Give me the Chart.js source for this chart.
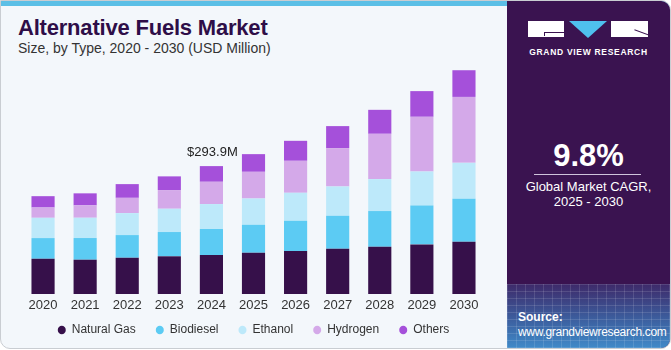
<!DOCTYPE html>
<html>
<head>
<meta charset="utf-8">
<script src="https://cdn.jsdelivr.net/npm/chart.js@4/dist/chart.umd.min.js"></script>
<style>
	html,body{margin:0;padding:0;background:#fff;}
	#card{position:absolute;left:0;top:0;width:669px;height:347px;background:#f3f7fb;border:1px solid #c9cdd2;border-radius:0 10px 10px 10px;overflow:hidden;font-family:"Liberation Sans",Arial,sans-serif;}
	#stripe{position:absolute;left:0;top:0;width:100%;height:5px;background:#5bbfe6;}
	#title{position:absolute;left:17px;top:14px;font-size:22px;font-weight:bold;color:#2e0e48;letter-spacing:-0.2px;}
	#sub{position:absolute;left:17px;top:39px;font-size:14px;color:#333;}
	#chartBox{position:absolute;left:0;top:58px;width:505px;height:289px;}
	#panel{position:absolute;left:506px;top:0;width:163px;height:347px;background:#3a1350;}
	#grid{position:absolute;left:0;bottom:0;width:100%;height:64px;
		background:
			repeating-linear-gradient(90deg,rgba(255,255,255,0.12) 0 1px,transparent 1px 9px),
			repeating-linear-gradient(0deg,rgba(255,255,255,0.12) 0 1px,transparent 1px 7px),
			linear-gradient(180deg,#3e2a6a 0%,#3c5a9a 50%,#3f8ac8 100%);}
	#src1{position:absolute;left:11px;top:26px;font-size:12px;font-weight:bold;color:#fff;}
	#src2{position:absolute;left:11px;top:41px;font-size:12px;color:#fff;letter-spacing:-0.3px;}
	#cagr{position:absolute;left:0;width:100%;top:137px;text-align:center;font-size:31px;font-weight:bold;color:#fff;}
	#rule{position:absolute;left:27px;width:107px;top:173px;height:1px;background:#cfc3dc;}
	#cagrTxt{position:absolute;left:0;width:100%;top:178px;text-align:center;font-size:13px;color:#fff;line-height:15px;}
	#logo{position:absolute;left:0;top:0;width:100%;height:60px;}
	#lg1{position:absolute;left:21px;top:20px;width:36px;height:16px;background:#fff;}
	#lg1 i{position:absolute;left:16px;top:11px;width:20px;height:1px;background:#3a1350;}
	#lg1 b{position:absolute;left:16px;top:11px;width:1px;height:4px;background:#3a1350;}
	#lg2{position:absolute;left:62px;top:20px;width:0;height:0;border-left:19px solid transparent;border-right:19px solid transparent;border-top:17px solid #4fc0ee;}
	#lg3{position:absolute;left:104px;top:20px;width:37px;height:16px;background:#fff;overflow:hidden;}
	#lg3 i{position:absolute;left:23px;top:11px;width:16px;height:1px;background:#3a1350;transform:rotate(20deg);}
	#lgT{position:absolute;left:0;width:100%;top:46px;text-align:center;font-size:8.5px;font-weight:bold;color:#fff;letter-spacing:0.7px;}
</style>
</head>
<body>
<div id="card">
	<div id="stripe"></div>
	<div id="title">Alternative Fuels Market</div>
	<div id="sub">Size, by Type, 2020 - 2030 (USD Million)</div>
	<div id="chartBox"><canvas id="fuelChart"></canvas></div>
	<div id="panel">
		<div id="logo">
			<div id="lg1"><i></i><b></b></div>
			<div id="lg2"></div>
			<div id="lg3"><i></i></div>
			<div id="lgT">GRAND VIEW RESEARCH</div>
		</div>
		<div id="cagr">9.8%</div>
		<div id="rule"></div>
		<div id="cagrTxt">Global Market CAGR,<br>2025 - 2030</div>
		<div id="grid">
			<div id="src1">Source:</div>
			<div id="src2">www.grandviewresearch.com</div>
		</div>
	</div>
</div>
<script>
// values (USD Million)
const years = ['2020','2021','2022','2023','2024','2025','2026','2027','2028','2029','2030'];
const naturalGas = [81.0, 78.8, 83.3, 86.6, 89.6, 94.8, 98.7, 104.0, 108.6, 114.0, 120.0];
const biodiesel  = [47.5, 49.8, 52.1, 55.8, 59.7, 64.3, 69.6, 75.8, 82.0, 89.5, 98.7];
const ethanol    = [46.6, 46.6, 50.5, 53.5, 57.4, 60.4, 64.3, 67.3, 73.5, 78.1, 82.7];
const hydrogen   = [23.7, 28.5, 35.1, 42.9, 51.2, 61.3, 73.5, 88.2, 104.0, 125.6, 151.5];
const others     = [26.0, 27.6, 31.5, 31.5, 36.0, 40.6, 45.9, 50.5, 55.1, 59.0, 61.3];
const seriesNames = ['Natural Gas','Biodiesel','Ethanol','Hydrogen','Others'];
const seriesColors = ['#36104a','#5ccbf3','#bde9fa','#d4a9e9','#a550da'];
const callout = {index: 4, text: '$293.9M'};

const seriesData = [naturalGas, biodiesel, ethanol, hydrogen, others];

// writes the callout value above one bar
const calloutPlugin = {
	id: 'callout',
	afterDatasetsDraw(chart){
		let meta = chart.getDatasetMeta(chart.data.datasets.length-1);
		let bar = meta.data[callout.index];
		let ctx = chart.ctx;
		ctx.save();
		ctx.font = '13px "Liberation Sans", Arial, sans-serif';
		ctx.fillStyle = '#222';
		ctx.textAlign = 'center';
		ctx.textBaseline = 'bottom';
		ctx.fillText(callout.text, bar.x + 1, bar.y - 7);
		ctx.restore();
	}
};

let ctx = document.getElementById('fuelChart').getContext('2d');
let chart = new Chart(ctx, {
	type: 'bar',
	data: {
		labels: years,
		datasets: seriesData.map(function(d, i){
			return {
				label: seriesNames[i],
				data: d,
				backgroundColor: seriesColors[i],
				borderWidth: 0,
				barPercentage: 0.55,
				categoryPercentage: 1.0
			};
		})
	},
	options: {
		responsive: true,
		maintainAspectRatio: false,
		animation: false,
		layout: {padding: {left: 21, right: 21, top: 0, bottom: 2}},
		plugins: {
			tooltip: {enabled: false},
			legend: {
				position: 'bottom',
				labels: {
					usePointStyle: true,
					pointStyle: 'circle',
					boxWidth: 8,
					boxHeight: 6,
					pointStyleWidth: 8,
					padding: 20,
					color: '#333',
					font: {family: '"Liberation Sans", Arial, sans-serif', size: 12}
				}
			}
		},
		scales: {
			x: {
				stacked: true,
				grid: {display: false, drawTicks: false},
				border: {display: false},
				ticks: {color: '#333', padding: 4, font: {family: '"Liberation Sans", Arial, sans-serif', size: 13}},
				afterFit: function(scale){
					// short axis box so the bars reach down; let labels spill below it
					scale.height = 10;
					scale._computeLabelArea = function(){ return undefined; };
				}
			},
			y: {
				stacked: true,
				display: false,
				min: 0,
				max: 540
			}
		}
	},
	plugins: [calloutPlugin]
});
</script>
</body>
</html>
